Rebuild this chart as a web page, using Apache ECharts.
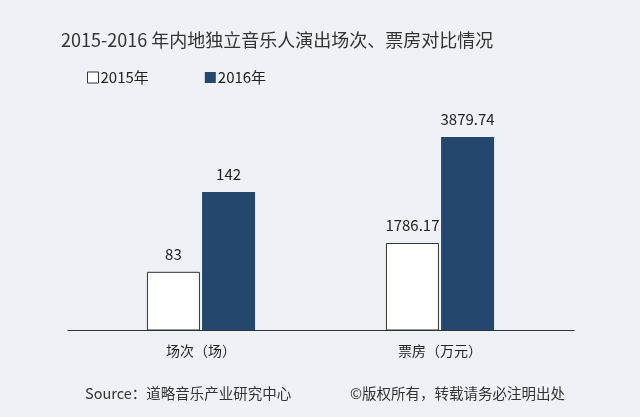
<!DOCTYPE html>
<html>
<head>
<meta charset="utf-8"/>
<script src="https://cdn.jsdelivr.net/npm/echarts@6/dist/echarts.min.js"></script>
<style>body{margin:0;background:#eef1f5}</style>
</head>
<body>
<div id="main" style="width:640px;height:417px;"></div>
<script>
var categories = ['场次（场）', '票房（万元）'];
var seriesNames = ['2015年', '2016年'];
var shows = [83, 142];
var boxOffice = [1786.17, 3879.74];

var font = '"Noto Sans CJK SC", sans-serif';
var dark = '#24476d';
var chart = echarts.init(document.getElementById('main'));

function bar(name, value, x, isNew) {
    return {
        name: name, type: 'bar', xAxisIndex: x, yAxisIndex: x,
        data: [value], barWidth: 53, barGap: '4%',
        itemStyle: isNew ? {color: dark} : {color: '#fff', borderColor: '#333', borderWidth: 1},
        label: {show: true, position: 'top', distance: 10, color: '#222', fontSize: 15, fontFamily: font}
    };
}

chart.setOption({
    backgroundColor: '#eef1f5',
    title: [
        {text: '2015-2016 年内地独立音乐人演出场次、票房对比情况', left: 56, top: 26,
            textStyle: {fontSize: 18, fontWeight: 'normal', color: '#333', fontFamily: font}},
        {text: 'Source：道略音乐产业研究中心', left: 80, top: 381,
            textStyle: {fontSize: 14.5, fontWeight: 'normal', color: '#333', fontFamily: font}},
        {text: '©版权所有，转载请务必注明出处', left: 345, top: 381,
            textStyle: {fontSize: 14.5, fontWeight: 'normal', color: '#333', fontFamily: font}}
    ],
    legend: {
        left: 82, top: 65, itemWidth: 11, itemHeight: 11, itemGap: 56, icon: 'rect',
        data: [
            {name: seriesNames[0], itemStyle: {color: '#fff', borderColor: '#333', borderWidth: 1}},
            {name: seriesNames[1], itemStyle: {color: dark}}
        ],
        textStyle: {fontSize: 15, color: '#222', fontFamily: font, padding: [0, 0, 0, -3]}
    },
    grid: [
        {left: 68, width: 266, top: 100, bottom: 87},
        {left: 306, width: 268, top: 100, bottom: 87}
    ],
    xAxis: [0, 1].map(function (i) {
        return {
            type: 'category', gridIndex: i, data: [categories[i]],
            axisLine: {lineStyle: {color: '#333'}}, axisTick: {show: false},
            axisLabel: {fontSize: 14, color: '#222', margin: 14, fontFamily: font}
        };
    }),
    yAxis: [
        {type: 'value', gridIndex: 0, min: 40, max: 210, show: false},
        {type: 'value', gridIndex: 1, min: 68, max: 4611, show: false}
    ],
    series: [
        bar(seriesNames[0], shows[0], 0, false),
        bar(seriesNames[1], shows[1], 0, true),
        bar(seriesNames[0], boxOffice[0], 1, false),
        bar(seriesNames[1], boxOffice[1], 1, true)
    ]
});
</script>
</body>
</html>
